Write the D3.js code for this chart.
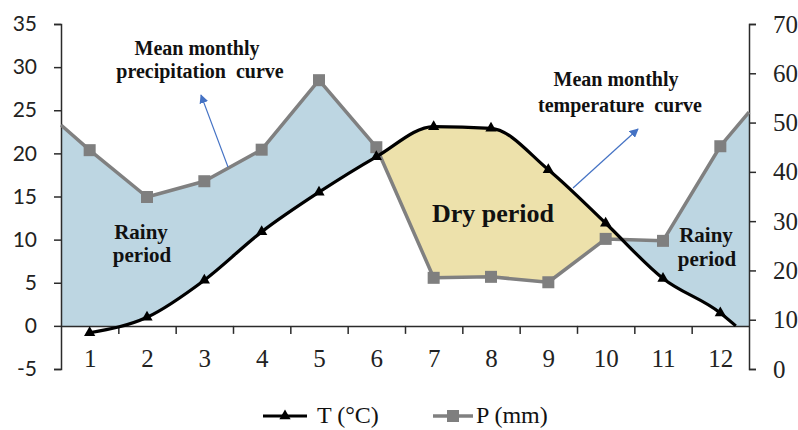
<!DOCTYPE html>
<html><head><meta charset="utf-8">
<script src="https://cdn.jsdelivr.net/npm/d3@7"></script>
<style>body{margin:0;background:#fff}svg{display:block}</style>
</head><body><svg id="c" width="798" height="430"></svg>
<script>
// ---- data ----
const months = [1,2,3,4,5,6,7,8,9,10,11,12];
const tempC = [-0.8, 1.0, 5.3, 10.9, 15.5, 19.6, 23.1, 22.9, 18.1, 11.9, 5.5, 1.5];
const precipMm = [44.4, 34.9, 38.1, 44.5, 58.6, 45.0, 18.5, 18.7, 17.6, 26.4, 26.0, 45.2];
const precipEdgeMonths = [0.5, 12.5];
const precipEdgeValues = [49.5, 52.1];
const tempEndMonth = [12.27];
const tempEndValue = [0];
const leftTicks = [-5,0,5,10,15,20,25,30,35];
const rightTicks = [0,10,20,30,40,50,60,70];
const monthBoundaries = [1.5,2.5,3.5,4.5,5.5,6.5,7.5,8.5,9.5,10.5,11.5];
const legendLabels = ["T (\u00B0C)", "P (mm)"];

// ---- layout ----
const L = 61, R = 749, T = 24, B = 369;
const serif = '"Liberation Serif","Times New Roman",serif';
const svg = d3.select("#c");
svg.append("rect").attr("width",798).attr("height",430).attr("fill","#fff");

const x = d3.scaleLinear().domain([0.5, 12.5]).range([L, R]);
const yT = d3.scaleLinear().domain([-5, 35]).range([B, T]);
const yP = d3.scaleLinear().domain([0, 70]).range([B, T]);

const tData = months.map((m,i)=>({m, v: tempC[i]}));
const tLineData = tData.concat(tempEndMonth.map((m,i)=>({m, v: tempEndValue[i]})));
const pData = months.map((m,i)=>({m, v: precipMm[i]}));
const pLineData = [{m: precipEdgeMonths[0], v: precipEdgeValues[0]}].concat(pData, [{m: precipEdgeMonths[1], v: precipEdgeValues[1]}]);

const curveT = d3.curveMonotoneX;
const defs = svg.append("defs");

// clip: region above the temperature curve
const clipAboveT = defs.append("clipPath").attr("id","aboveT");
clipAboveT.append("path").attr("d", d3.area().curve(curveT)
  .x(d=>x(d.m)).y0(0).y1(d=>yT(d.v))(tLineData));
clipAboveT.append("rect").attr("x", x(0.5)).attr("y",0)
  .attr("width", x(tLineData[0].m)-x(0.5)+0.5).attr("height", yT(tLineData[0].v));
const lastT = tLineData[tLineData.length-1];
clipAboveT.append("rect").attr("x", x(lastT.m)-0.5).attr("y",0)
  .attr("width", x(12.5)-x(lastT.m)+0.5).attr("height", yT(lastT.v));

// clip: region above the precipitation line
const clipAboveP = defs.append("clipPath").attr("id","aboveP");
clipAboveP.append("path").attr("d", d3.area()
  .x(d=>x(d.m)).y0(0).y1(d=>yP(d.v))(pLineData));

// rainy fill
svg.append("path")
  .attr("d", d3.area().x(d=>x(d.m)).y0(yT(0)).y1(d=>yP(d.v))(pLineData))
  .attr("fill","#bdd6e2").attr("clip-path","url(#aboveT)");
// dry fill
svg.append("path")
  .attr("d", d3.area().curve(curveT).x(d=>x(d.m)).y0(yT(0)).y1(d=>yT(d.v))(tLineData))
  .attr("fill","#ede1ab").attr("clip-path","url(#aboveP)");

// ---- axes ----
const axisColor = "#2b2b2b";
function styleAxis(g){
  g.selectAll("path.domain").attr("stroke",axisColor).attr("stroke-width",1.5);
  g.selectAll(".tick line").attr("stroke",axisColor).attr("stroke-width",1.5);
}
const gl = svg.append("g").attr("transform",`translate(${L},0)`)
  .call(d3.axisLeft(yT).tickValues(leftTicks).tickSize(7).tickPadding(17).tickFormat(d=>String(d)));
styleAxis(gl);
gl.selectAll("text").attr("font-family",'Lato,"Liberation Sans",sans-serif').attr("font-size",21).attr("fill","#222");

const gr = svg.append("g").attr("transform",`translate(${R},0)`)
  .call(d3.axisRight(yP).tickValues(rightTicks).tickSize(7).tickPadding(17).tickFormat(d=>String(d)));
styleAxis(gr);
gr.selectAll("text").attr("font-family",serif).attr("font-size",25).attr("fill","#222");

const gx = svg.append("g").attr("transform",`translate(0,${yT(0)})`)
  .call(d3.axisBottom(x).tickValues(monthBoundaries).tickSize(8).tickSizeOuter(0).tickFormat(""));
styleAxis(gx);
const gxl = svg.append("g").attr("transform",`translate(0,${yT(0)})`)
  .call(d3.axisBottom(x).tickValues(months).tickSize(0).tickFormat(d=>String(d)));
gxl.select("path.domain").remove();
gxl.selectAll("text").attr("font-family",serif).attr("font-size",25).attr("fill","#222")
  .attr("y",41).attr("dy",0);

// ---- lines ----
svg.append("path").datum(pLineData)
  .attr("d", d3.line().x(d=>x(d.m)).y(d=>yP(d.v)))
  .attr("fill","none").attr("stroke","#808080").attr("stroke-width",3.5).attr("stroke-linejoin","round");
svg.selectAll("rect.pm").data(pData).join("rect").attr("class","pm")
  .attr("x",d=>x(d.m)-6).attr("y",d=>yP(d.v)-6).attr("width",12).attr("height",12).attr("fill","#7f7f7f");

svg.append("path").datum(tLineData)
  .attr("d", d3.line().curve(curveT).x(d=>x(d.m)).y(d=>yT(d.v)))
  .attr("fill","none").attr("stroke","#000").attr("stroke-width",3.2).attr("stroke-linejoin","round");
const tri = d3.symbol().type(d3.symbolTriangle).size(55);
svg.selectAll("path.tm").data(tData).join("path").attr("class","tm")
  .attr("transform",d=>`translate(${x(d.m)},${yT(d.v)})`).attr("d",tri()).attr("fill","#000");

// ---- annotations ----
const ann = svg.append("g").attr("font-family",serif).attr("font-weight","bold").attr("fill","#111")
  .attr("text-anchor","middle").style("white-space","pre");
ann.append("text").attr("x",197).attr("y",55).attr("font-size",20).text("Mean monthly");
ann.append("text").attr("x",200).attr("y",78).attr("font-size",20).attr("xml:space","preserve").text("precipitation  curve");
ann.append("text").attr("x",616).attr("y",86).attr("font-size",20).text("Mean monthly");
ann.append("text").attr("x",620).attr("y",112).attr("font-size",20).attr("xml:space","preserve").text("temperature  curve");
ann.append("text").attr("x",493).attr("y",222).attr("font-size",26).text("Dry period");
ann.append("text").attr("x",141).attr("y",239).attr("font-size",21).text("Rainy");
ann.append("text").attr("x",142).attr("y",262).attr("font-size",21).text("period");
ann.append("text").attr("x",706).attr("y",242).attr("font-size",21).text("Rainy");
ann.append("text").attr("x",707).attr("y",266).attr("font-size",21).text("period");

// arrows
const arrowColor = "#4472c4";
defs.append("marker").attr("id","ah").attr("viewBox","0 0 10 10").attr("refX",9).attr("refY",5)
  .attr("markerWidth",9).attr("markerHeight",9).attr("markerUnits","userSpaceOnUse").attr("orient","auto")
  .append("path").attr("d","M0,0 L10,5 L0,10 Z").attr("fill",arrowColor);
svg.append("line").attr("x1",228).attr("y1",167).attr("x2",201).attr("y2",95)
  .attr("stroke",arrowColor).attr("stroke-width",1.2).attr("marker-end","url(#ah)");
svg.append("line").attr("x1",573).attr("y1",188).attr("x2",638).attr("y2",129)
  .attr("stroke",arrowColor).attr("stroke-width",1.2).attr("marker-end","url(#ah)");

// ---- legend ----
const lg = svg.append("g");
lg.append("line").attr("x1",263).attr("x2",307).attr("y1",416).attr("y2",416).attr("stroke","#000").attr("stroke-width",3.2);
lg.append("path").attr("transform","translate(285,416)").attr("d",tri()).attr("fill","#000");
lg.append("text").attr("x",317).attr("y",423).attr("font-family",serif).attr("font-size",24).attr("fill","#111").text(legendLabels[0]);
lg.append("line").attr("x1",433).attr("x2",473).attr("y1",416).attr("y2",416).attr("stroke","#808080").attr("stroke-width",3.5);
lg.append("rect").attr("x",447).attr("y",410).attr("width",12).attr("height",12).attr("fill","#7f7f7f");
lg.append("text").attr("x",476).attr("y",423).attr("font-family",serif).attr("font-size",24).attr("fill","#111").text(legendLabels[1]);
</script></body></html>
